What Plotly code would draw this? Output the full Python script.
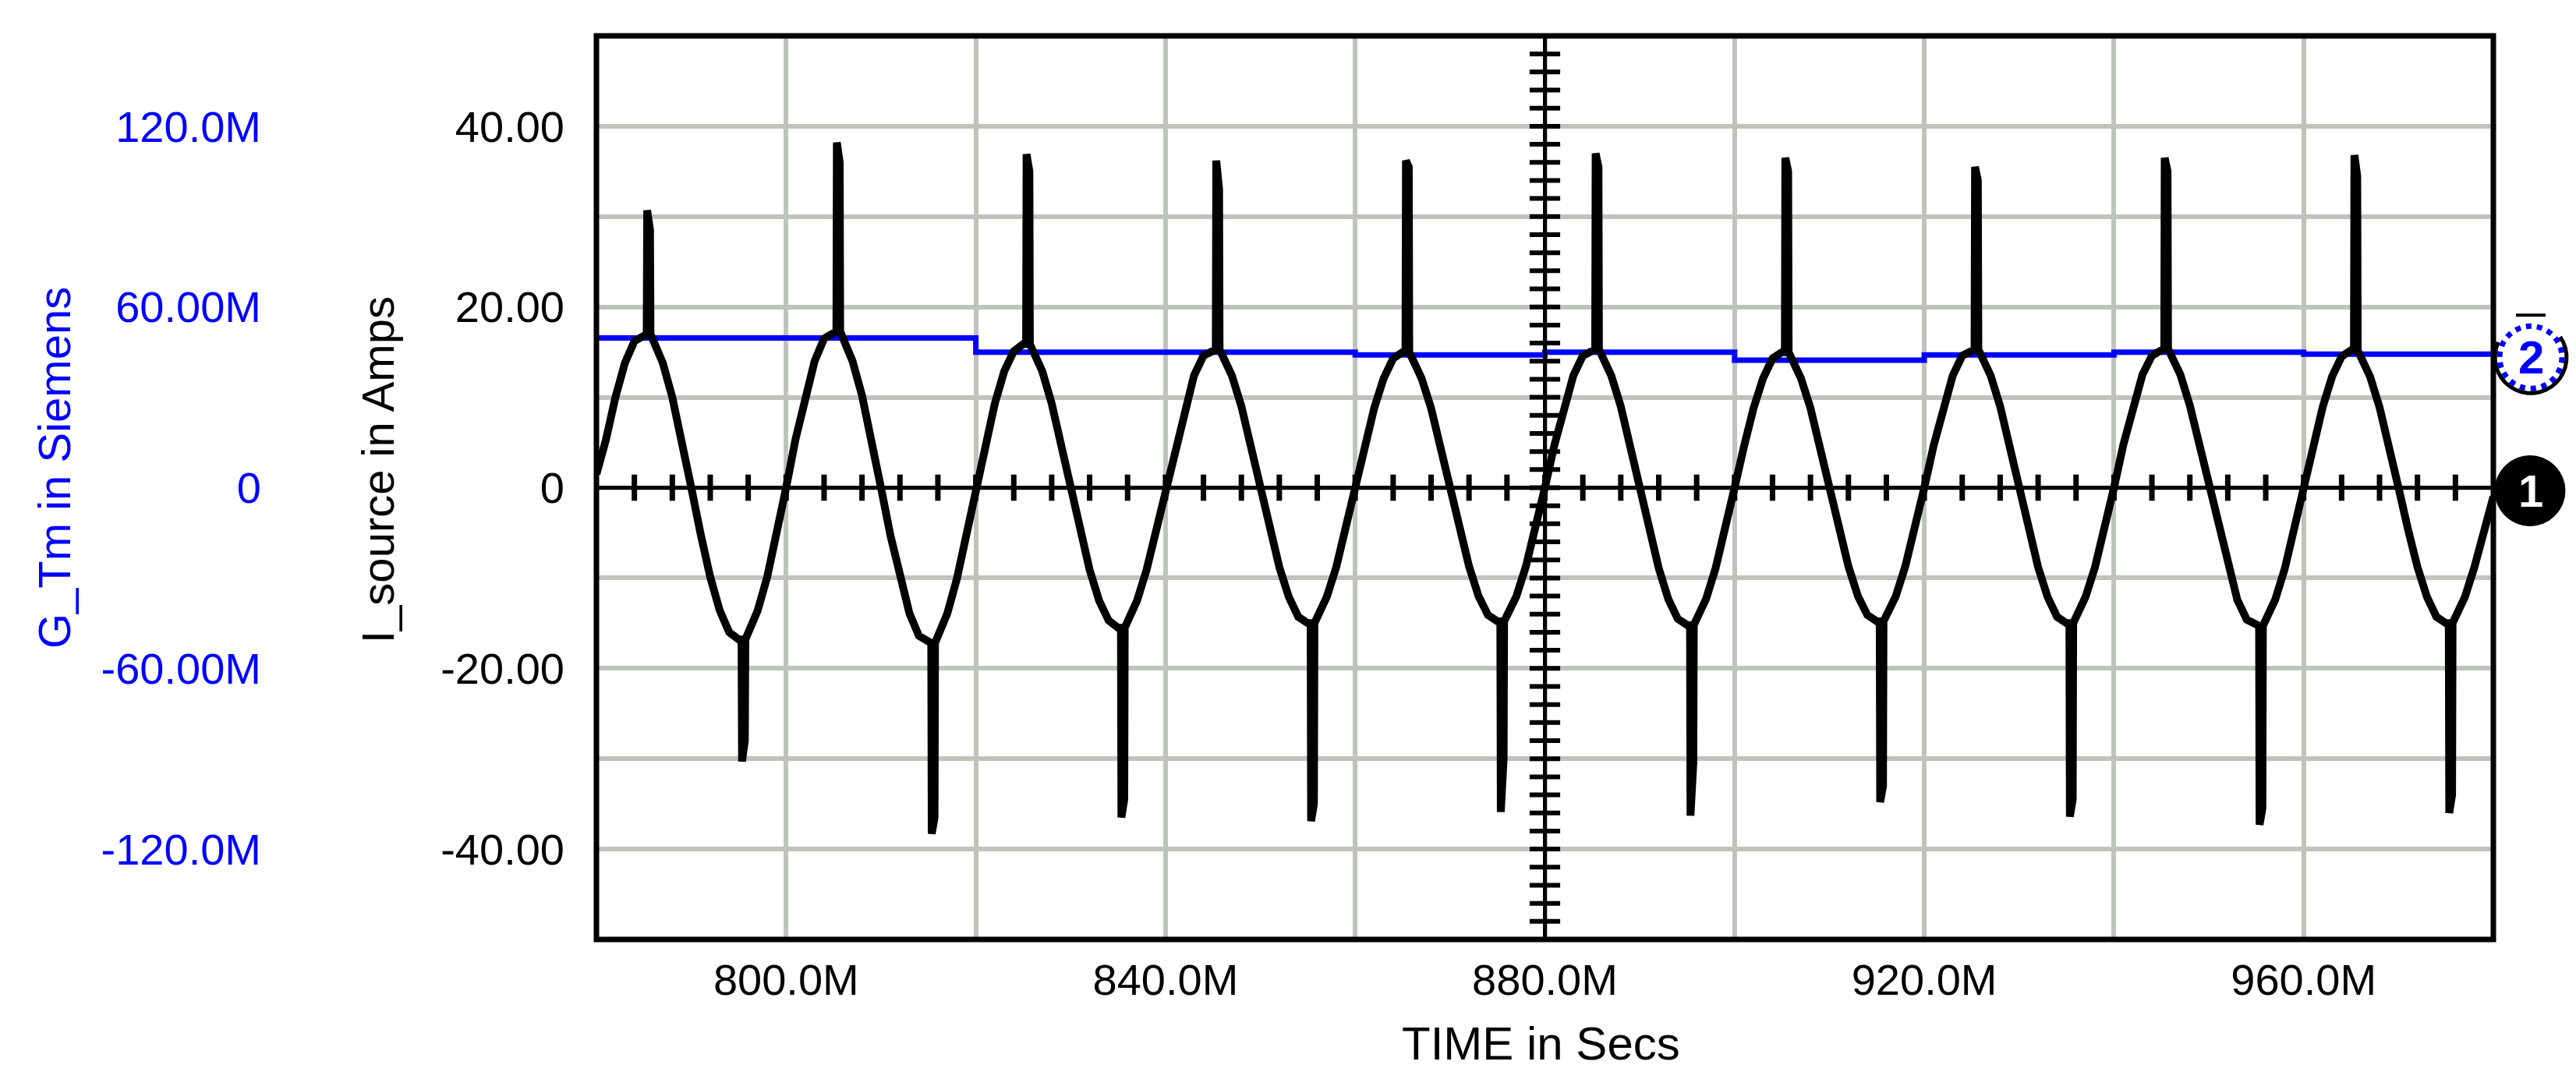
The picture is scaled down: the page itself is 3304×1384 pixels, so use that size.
import math
import plotly.graph_objects as go

# ---------------- data ----------------
# time axis in milli-seconds ("M" = milli in the SPICE style labels)
x_range_ms = [780, 980]
x_grid_ms = [780, 800, 820, 840, 860, 880, 900, 920, 940, 960, 980]
x_tick_labels = ["", "800.0M", "", "840.0M", "", "880.0M", "", "920.0M", "", "960.0M", ""]

# left-inner axis: I_source in Amps
i_range = [-50, 50]
i_tick_vals = [-40, -20, 0, 20, 40]
i_tick_labels = ["-40.00", "-20.00", "0", "20.00", "40.00"]

# far-left axis: G_Tm in Siemens (values in "M" units as labelled)
g_range = [-150, 150]
g_grid_vals = [-150, -120, -90, -60, -30, 0, 30, 60, 90, 120, 150]
g_tick_labels = ["", "-120.0M", "", "-60.00M", "", "0", "", "60.00M", "", "120.0M", ""]

# G_Tm step trace (trace 2, blue)
g_time_ms = [780, 820, 860, 880, 900, 920, 940, 960, 980]
g_tm_m = [49.7, 45.0, 44.1, 45.0, 42.3, 44.1, 45.0, 44.3, 44.3]

# I_source waveform (trace 1, black): sinusoid with switching spikes
wave_time_ms = [
    780, 781, 782, 783, 784, 785, 785.3, 785.35, 785.65, 785.7, 786, 787, 788, 789,
    790, 791, 792, 793, 794, 795, 795.3, 795.35, 795.65, 795.7, 796, 797, 798, 799,
    800, 801, 802, 803, 804, 805, 805.3, 805.35, 805.65, 805.7, 806, 807, 808, 809,
    810, 811, 812, 813, 814, 815, 815.3, 815.35, 815.65, 815.7, 816, 817, 818, 819,
    820, 821, 822, 823, 824, 825, 825.3, 825.35, 825.65, 825.7, 826, 827, 828, 829,
    830, 831, 832, 833, 834, 835, 835.3, 835.35, 835.65, 835.7, 836, 837, 838, 839,
    840, 841, 842, 843, 844, 845, 845.3, 845.35, 845.65, 845.7, 846, 847, 848, 849,
    850, 851, 852, 853, 854, 855, 855.3, 855.35, 855.65, 855.7, 856, 857, 858, 859,
    860, 861, 862, 863, 864, 865, 865.3, 865.35, 865.65, 865.7, 866, 867, 868, 869,
    870, 871, 872, 873, 874, 875, 875.3, 875.35, 875.65, 875.7, 876, 877, 878, 879,
    880, 881, 882, 883, 884, 885, 885.3, 885.35, 885.65, 885.7, 886, 887, 888, 889,
    890, 891, 892, 893, 894, 895, 895.3, 895.35, 895.65, 895.7, 896, 897, 898, 899,
    900, 901, 902, 903, 904, 905, 905.3, 905.35, 905.65, 905.7, 906, 907, 908, 909,
    910, 911, 912, 913, 914, 915, 915.3, 915.35, 915.65, 915.7, 916, 917, 918, 919,
    920, 921, 922, 923, 924, 925, 925.3, 925.35, 925.65, 925.7, 926, 927, 928, 929,
    930, 931, 932, 933, 934, 935, 935.3, 935.35, 935.65, 935.7, 936, 937, 938, 939,
    940, 941, 942, 943, 944, 945, 945.3, 945.35, 945.65, 945.7, 946, 947, 948, 949,
    950, 951, 952, 953, 954, 955, 955.3, 955.35, 955.65, 955.7, 956, 957, 958, 959,
    960, 961, 962, 963, 964, 965, 965.3, 965.35, 965.65, 965.7, 966, 967, 968, 969,
    970, 971, 972, 973, 974, 975, 975.3, 975.35, 975.65, 975.7, 976, 977, 978, 979,
    980,
]
wave_current_a = [
    1.5, 5.3, 10.0, 13.8, 16.2, 17.0, 17.0, 30.7, 28.5, 17.0, 16.2, 13.8, 10.0, 5.3,
    0.0, -5.2, -9.9, -13.6, -16.0, -16.8, -16.8, -30.3, -28.0, -16.8, -16.0, -13.6, -9.9, -5.2,
    0.0, 5.4, 10.2, 14.0, 16.5, 17.3, 17.3, 38.2, 36.0, 17.3, 16.5, 14.0, 10.2, 5.4,
    0.0, -5.3, -10.1, -13.9, -16.4, -17.2, -17.2, -38.3, -36.5, -17.2, -16.4, -13.9, -10.1, -5.3,
    0.0, 4.9, 9.3, 12.9, 15.1, 15.9, 15.9, 36.9, 35.0, 15.9, 15.1, 12.9, 9.3, 4.9,
    0.0, -4.8, -9.1, -12.5, -14.7, -15.5, -15.5, -36.5, -34.5, -15.5, -14.7, -12.5, -9.1, -4.8,
    0.0, 4.7, 9.0, 12.4, 14.6, 15.3, 15.3, 36.2, 33.0, 15.3, 14.6, 12.4, 9.0, 4.7,
    0.0, -4.6, -8.8, -12.1, -14.3, -15.0, -15.0, -36.9, -35.0, -15.0, -14.3, -12.1, -8.8, -4.6,
    0.0, 4.6, 8.8, 12.1, 14.3, 15.0, 15.0, 36.2, 35.5, 15.0, 14.3, 12.1, 8.8, 4.6,
    0.0, -4.6, -8.7, -12.0, -14.1, -14.8, -14.8, -35.9, -30.0, -14.8, -14.1, -12.0, -8.7, -4.6,
    0.0, 4.7, 9.0, 12.4, 14.6, 15.3, 15.3, 37.0, 35.5, 15.3, 14.6, 12.4, 9.0, 4.7,
    0.0, -4.7, -8.9, -12.3, -14.5, -15.2, -15.2, -36.3, -30.5, -15.2, -14.5, -12.3, -8.9, -4.7,
    0.0, 4.6, 8.8, 12.1, 14.3, 15.0, 15.0, 36.5, 35.0, 15.0, 14.3, 12.1, 8.8, 4.6,
    0.0, -4.6, -8.7, -12.0, -14.1, -14.8, -14.8, -34.8, -33.0, -14.8, -14.1, -12.0, -8.7, -4.6,
    0.0, 4.7, 9.0, 12.4, 14.6, 15.3, 15.3, 35.5, 34.0, 15.3, 14.6, 12.4, 9.0, 4.7,
    0.0, -4.6, -8.8, -12.1, -14.3, -15.0, -15.0, -36.4, -34.5, -15.0, -14.3, -12.1, -8.8, -4.6,
    0.0, 4.8, 9.1, 12.5, 14.6, 15.4, 15.4, 36.5, 35.0, 15.4, 14.6, 12.5, 9.1, 4.8,
    0.0, -4.7, -9.0, -12.4, -14.6, -15.3, -15.3, -37.3, -35.5, -15.3, -14.6, -12.4, -9.0, -4.7,
    0.0, 4.7, 8.9, 12.3, 14.5, 15.2, 15.2, 36.8, 34.5, 15.2, 14.5, 12.3, 8.9, 4.7,
    0.0, -4.6, -8.8, -12.1, -14.3, -15.0, -15.0, -36.0, -34.0, -15.0, -14.3, -12.1, -8.8, -4.6,
    -1.0,
]

# decorations of the scope-style display
zero_axis_ticks_ms = [784, 788, 792, 796, 800, 804, 808, 812, 816, 820, 824, 828, 832, 836,
                      840, 844, 848, 852, 856, 860, 864, 868, 872, 876, 880, 884, 888, 892,
                      896, 900, 904, 908, 912, 916, 920, 924, 928, 932, 936, 940, 944, 948,
                      952, 956, 960, 964, 968, 972, 976]
cursor_time_ms = 880
cursor_ticks_a = [-48, -46, -44, -42, -40, -38, -36, -34, -32, -30, -28, -26, -24, -22, -20,
                  -18, -16, -14, -12, -10, -8, -6, -4, -2, 0, 2, 4, 6, 8, 10, 12, 14, 16, 18,
                  20, 22, 24, 26, 28, 30, 32, 34, 36, 38, 40, 42, 44, 46, 48]

# ---------------- styling ----------------
W, H = 3304, 1384
L, R, T, B = 757, 3190, 38, 1197
FONT = "Liberation Sans, Arial, sans-serif"
BLUE = "#0000FF"
GRID = "#BEC3BC"


def px_x(px):
    return (px - L) / (R - L)


def px_y(py):
    return (B - py) / (B - T)


fig = go.Figure()

# G_Tm (blue) on the main y axis, drawn below the current trace
fig.add_trace(go.Scatter(x=g_time_ms, y=g_tm_m, mode="lines", yaxis="y",
                         line=dict(color=BLUE, width=7, shape="hv"),
                         hoverinfo="skip", showlegend=False))

# zero axis with small ticks
fig.add_trace(go.Scatter(x=x_range_ms, y=[0, 0], mode="lines", yaxis="y2",
                         line=dict(color="black", width=5),
                         hoverinfo="skip", showlegend=False))
fig.add_trace(go.Scatter(x=zero_axis_ticks_ms, y=[0] * len(zero_axis_ticks_ms),
                         mode="markers", yaxis="y2",
                         marker=dict(symbol="line-ns", size=24,
                                     line=dict(color="black", width=7)),
                         hoverinfo="skip", showlegend=False))

# cursor at 880M with ticks
fig.add_trace(go.Scatter(x=[cursor_time_ms, cursor_time_ms], y=i_range, mode="lines",
                         yaxis="y2", line=dict(color="black", width=5),
                         hoverinfo="skip", showlegend=False))
fig.add_trace(go.Scatter(x=[cursor_time_ms] * len(cursor_ticks_a), y=cursor_ticks_a,
                         mode="markers", yaxis="y2",
                         marker=dict(symbol="line-ew", size=28,
                                     line=dict(color="black", width=6)),
                         hoverinfo="skip", showlegend=False))

# I_source (black)
fig.add_trace(go.Scatter(x=wave_time_ms, y=wave_current_a, mode="lines", yaxis="y2",
                         line=dict(color="black", width=10),
                         hoverinfo="skip", showlegend=False))

fig.update_layout(
    width=W, height=H,
    margin=dict(l=L, r=W - R, t=T, b=H - B, pad=0),
    paper_bgcolor="white", plot_bgcolor="white",
    showlegend=False,
    font=dict(family=FONT, size=56, color="black"),
    xaxis=dict(range=x_range_ms, tickvals=x_grid_ms, ticktext=x_tick_labels,
               showgrid=True, gridcolor=GRID, gridwidth=6,
               zeroline=False, showline=False, ticks="",
               tickfont=dict(family=FONT, size=56, color="black"),
               ticklabelstandoff=14),
    yaxis=dict(range=g_range, tickvals=g_grid_vals, ticktext=g_tick_labels,
               showgrid=True, gridcolor=GRID, gridwidth=6,
               zeroline=False, showline=False, ticks="",
               tickfont=dict(family=FONT, size=56, color=BLUE),
               anchor="free", position=0, shift=-430, side="left"),
    yaxis2=dict(range=i_range, tickvals=i_tick_vals, ticktext=i_tick_labels,
                overlaying="y", side="left", anchor="x",
                showgrid=False, zeroline=False, showline=False, ticks="",
                tickfont=dict(family=FONT, size=56, color="black"),
                ticklabelstandoff=40),
)

shapes = [
    # plot frame
    dict(type="rect", xref="paper", yref="paper", x0=0, x1=1, y0=0, y1=1,
         line=dict(color="black", width=7), layer="above"),
]

# end-of-trace markers "1" (I_source) and "2" (G_Tm)
i_end_paper = (0 - i_range[0]) / (i_range[1] - i_range[0])
g_end_paper = (g_tm_m[-1] - g_range[0]) / (g_range[1] - g_range[0])
shapes.append(dict(type="circle", xref="paper", yref="paper",
                   xsizemode="pixel", ysizemode="pixel",
                   xanchor=1, x0=2, x1=92, yanchor=i_end_paper, y0=-49, y1=41,
                   fillcolor="black", line=dict(color="black", width=1), layer="above"))
shapes.append(dict(type="circle", xref="paper", yref="paper",
                   xsizemode="pixel", ysizemode="pixel",
                   xanchor=1, x0=8, x1=88, yanchor=g_end_paper, y0=-44, y1=36,
                   fillcolor="white", line=dict(color=BLUE, width=7, dash="dot"),
                   layer="above"))
# black rim on the lower/right part of marker 2
cx, cy, rr = 48, -4, 46
arc_pts = []
for k in range(0, 25):
    ang = math.radians(35 - k * 10)
    arc_pts.append((cx + rr * math.cos(ang), cy + rr * math.sin(ang)))
arc_path = "M" + " L".join(f"{px:.1f},{py:.1f}" for px, py in arc_pts)
shapes.append(dict(type="path", xref="paper", yref="paper",
                   xsizemode="pixel", ysizemode="pixel",
                   xanchor=1, yanchor=g_end_paper, path=arc_path,
                   line=dict(color="black", width=5), layer="above"))
# small bar above marker 2
shapes.append(dict(type="path", xref="paper", yref="paper",
                   xsizemode="pixel", ysizemode="pixel",
                   xanchor=1, yanchor=g_end_paper, path="M29,50 L67,50",
                   line=dict(color="black", width=4), layer="above"))
fig.update_layout(shapes=shapes)

annotations = [
    dict(text="<b>1</b>", xref="paper", yref="paper", x=1, y=i_end_paper, xshift=48, yshift=-4,
         showarrow=False, font=dict(family=FONT, size=58, color="white"),
         xanchor="center", yanchor="middle"),
    dict(text="<b>2</b>", xref="paper", yref="paper", x=1, y=g_end_paper, xshift=48,
         yshift=-4, showarrow=False, font=dict(family=FONT, size=60, color=BLUE),
         xanchor="center", yanchor="middle"),
    dict(text="I_source in Amps", xref="paper", yref="paper", x=px_x(476), y=px_y(595),
         textangle=-90, showarrow=False, font=dict(family=FONT, size=58, color="black"),
         xanchor="center", yanchor="middle"),
    dict(text="G_Tm in Siemens", xref="paper", yref="paper", x=px_x(61), y=px_y(592),
         textangle=-90, showarrow=False, font=dict(family=FONT, size=58, color=BLUE),
         xanchor="center", yanchor="middle"),
    dict(text="TIME in Secs", xref="paper", yref="paper", x=px_x(1968), y=px_y(1330),
         showarrow=False, font=dict(family=FONT, size=60, color="black"),
         xanchor="center", yanchor="middle"),
]
fig.update_layout(annotations=annotations)

fig.write_html("out.html")
